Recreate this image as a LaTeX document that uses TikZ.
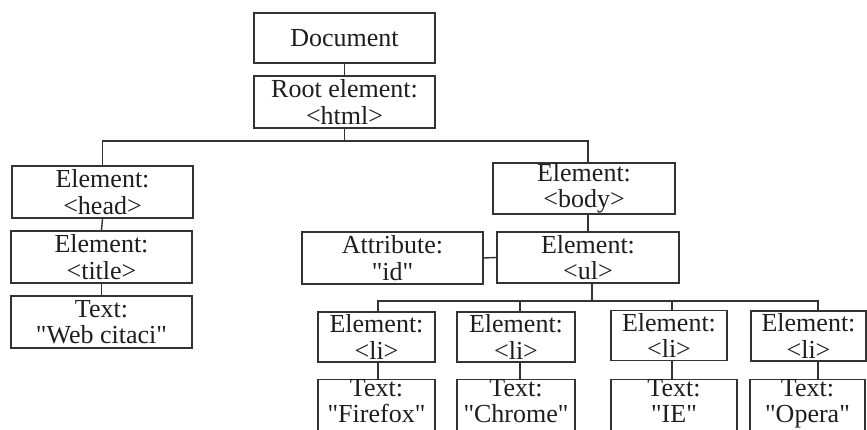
\documentclass[tikz,border=0pt]{standalone}
\usepackage{fontspec}
\setmainfont{Liberation Serif}
\newfontfamily\plainserif{Liberation Serif}
\newcommand{\mydq}{{\plainserif\char34}}
\begin{document}
\begin{tikzpicture}[x=1pt,y=-1pt,
  box/.style={draw=linegray, line width=1.4pt, rectangle, inner sep=0pt, align=center,
    text=textblack, font=\fontsize{26}{26.5}\selectfont},
  tbox/.style={box, minimum height=52pt, text depth=10pt},
  conn/.style={draw=linegray, line width=1.4pt}]
\definecolor{linegray}{HTML}{333333}
\definecolor{textblack}{HTML}{1E1E1E}
\useasboundingbox[fill=white] (0,0) rectangle (867,430);
% top
\node[box, minimum width=181pt, minimum height=50pt] (doc) at (344.5,38) {Document};
\node[box, minimum width=181pt, minimum height=52pt] (root) at (344.5,102) {Root element:\\\textless html\textgreater};
% head branch
\node[box, minimum width=181pt, minimum height=52pt] (head) at (102.5,192) {Element:\\\textless head\textgreater};
\node[box, minimum width=181pt, minimum height=52pt] (title) at (101.5,257) {Element:\\\textless title\textgreater};
\node[box, minimum width=181pt, minimum height=52pt] (web) at (101.5,322) {Text:\\\mydq Web citaci\mydq};
% body branch
\node[box, minimum width=182pt, minimum height=51pt] (body) at (584,188.5) {Element:\\\textless body\textgreater};
\node[box, minimum width=181pt, minimum height=52pt] (attr) at (392.5,258) {Attribute:\\\mydq id\mydq};
\node[box, minimum width=182pt, minimum height=51pt] (ul) at (588,257.5) {Element:\\\textless ul\textgreater};
% li
\node[box, minimum width=117pt, minimum height=50pt] (li1) at (376.5,337) {Element:\\\textless li\textgreater};
\node[box, minimum width=118pt, minimum height=50pt] (li2) at (516,337) {Element:\\\textless li\textgreater};
\node[box, minimum width=116pt, minimum height=50pt] (li3) at (669,335.5) {Element:\\\textless li\textgreater};
\node[box, minimum width=115pt, minimum height=50pt] (li4) at (808.5,336) {Element:\\\textless li\textgreater};
% texts
\node[tbox, minimum width=117pt] (t1) at (376.5,406) {Text:\\\mydq Firefox\mydq};
\node[tbox, minimum width=118pt] (t2) at (516,406) {Text:\\\mydq Chrome\mydq};
\node[tbox, minimum width=126pt] (t3) at (674,406) {Text:\\\mydq IE\mydq};
\node[tbox, minimum width=115pt] (t4) at (807.5,406) {Text:\\\mydq Opera\mydq};
% bus coordinates
\coordinate (bus1) at (346,141);
\coordinate (bus2) at (592,301);
% connectors
\draw[conn] (doc.south) -- (root.north);
\draw[conn] (root.south) -- (root.south |- bus1);
\draw[conn] (head.north) -- (head.north |- bus1) -- ([xshift=4pt]body.north |- bus1) -- ([xshift=4pt]body.north);
\draw[conn] (head.south) -- (title.north);
\draw[conn] (title.south) -- (web.north);
\draw[conn] ([xshift=4pt]body.south) -- (ul.north);
\draw[conn] (attr.east) -- (ul.west);
\draw[conn] ([xshift=4pt]ul.south) -- (bus2);
\draw[conn] ([xshift=1.5pt]li1.north) -- ([xshift=1.5pt]li1.north |- bus2) -- ([xshift=9.5pt]li4.north |- bus2) -- ([xshift=9.5pt]li4.north);
\draw[conn] ([xshift=4pt]li2.north) -- ([xshift=4pt]li2.north |- bus2);
\draw[conn] ([xshift=3pt]li3.north) -- ([xshift=3pt]li3.north |- bus2);
\draw[conn] ([xshift=1.5pt]li1.south) -- ([xshift=1.5pt]li1.south |- t1.north);
\draw[conn] ([xshift=4pt]li2.south) -- ([xshift=4pt]li2.south |- t2.north);
\draw[conn] ([xshift=3pt]li3.south) -- ([xshift=3pt]li3.south |- t3.north);
\draw[conn] ([xshift=9.5pt]li4.south) -- ([xshift=9.5pt]li4.south |- t4.north);
\end{tikzpicture}
\end{document}
